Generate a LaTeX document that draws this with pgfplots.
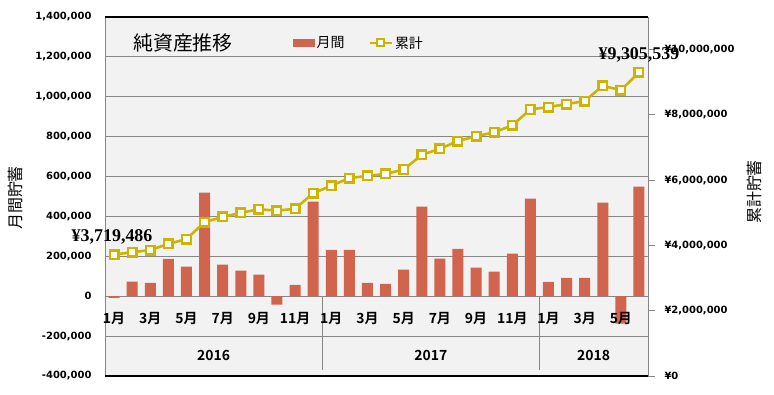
\documentclass[border=0pt]{standalone}
\usepackage{fontspec}
\usepackage{pgfplots}
\usepackage{pgfplotstable}
\pgfplotsset{compat=1.18}
\setmainfont{DejaVu Sans}
\newfontfamily\cjk{Noto Sans CJK JP}
\newfontfamily\cjkb{Noto Sans CJK JP Bold}
\newfontfamily\lserif{Liberation Serif}
\definecolor{barcol}{RGB}{208,100,76}
\definecolor{linecol}{RGB}{204,180,0}
\definecolor{bgcol}{RGB}{242,242,242}
\definecolor{gridcol}{RGB}{134,134,134}

\pgfplotstableread{
x monthly cum
0 -8000 3719486
1 73000 3792486
2 67000 3859486
3 187000 4046486
4 148000 4194486
5 520000 4714486
6 158000 4872486
7 128000 5000486
8 108000 5108486
9 -42000 5066486
10 57000 5123486
11 474000 5597486
12 233000 5830486
13 233000 6063486
14 67000 6130486
15 62000 6192486
16 133000 6325486
17 449000 6774486
18 188000 6962486
19 238000 7200486
20 143000 7343486
21 123000 7466486
22 213000 7679486
23 489000 8168486
24 72000 8240486
25 92000 8332486
26 92000 8424486
27 469000 8893486
28 -137000 8756486
29 549053 9305539
}\datatable

\begin{document}
\begin{tikzpicture}
\path[use as bounding box] (0,0) rectangle (774bp,395bp);
\begin{axis}[
  at={(105bp,19bp)}, anchor=south west, scale only axis,
  width=543bp, height=359bp,
  xmin=-0.5, xmax=29.5, ymin=-400000, ymax=1400000,
  xtick=\empty,
  ytick={-400000,-200000,0,200000,400000,600000,800000,1000000,1200000,1400000},
  yticklabels={{-400,000},{-200,000},{0},{200,000},{400,000},{600,000},{800,000},{1,000,000},{1,200,000},{1,400,000}},
  scaled y ticks=false,
  yticklabel style={font=\bfseries\fontsize{10}{12}\selectfont, xshift=-10bp},
  major tick length=0pt,
  ymajorgrids, grid style={gridcol, line width=0.9bp},
  axis line style={draw=none},
  axis background/.style={fill=bgcol},
  clip=false,
]
\addplot[ybar, bar width=11bp, fill=barcol, draw=none] table[x=x,y=monthly]{\datatable};
\draw[gridcol, line width=0.9bp] (rel axis cs:0,0) -- (rel axis cs:0,1);
\draw[black, line width=1.2bp] (rel axis cs:0,1) -- (rel axis cs:1,1);
\draw[black, line width=1.2bp] (rel axis cs:0,0) -- (rel axis cs:1,0);
\draw[gridcol, line width=0.9bp] (axis cs:11.5,0) -- (axis cs:11.5,-370000);
\draw[gridcol, line width=0.9bp] (axis cs:23.5,0) -- (axis cs:23.5,-370000);
\begin{scope}[every node/.style={font=\cjkb\fontsize{14}{16}\selectfont}]
\node at (axis cs:0,-113800) {1月};
\node at (axis cs:2,-113800) {3月};
\node at (axis cs:4,-113800) {5月};
\node at (axis cs:6,-113800) {7月};
\node at (axis cs:8,-113800) {9月};
\node at (axis cs:10,-113800) {11月};
\node at (axis cs:12,-113800) {1月};
\node at (axis cs:14,-113800) {3月};
\node at (axis cs:16,-113800) {5月};
\node at (axis cs:18,-113800) {7月};
\node at (axis cs:20,-113800) {9月};
\node at (axis cs:22,-113800) {11月};
\node at (axis cs:24,-113800) {1月};
\node at (axis cs:26,-113800) {3月};
\node at (axis cs:28,-113800) {5月};
\node at (axis cs:5.5,-299000) {2016};
\node at (axis cs:17.5,-299000) {2017};
\node at (axis cs:26.5,-299000) {2018};
\end{scope}
\node[font=\cjk\fontsize{20}{22}\selectfont] at (rel axis cs:0.1436,0.9276) {純資産推移};
\end{axis}
\begin{axis}[
  at={(105bp,19bp)}, anchor=south west, scale only axis,
  width=543bp, height=359bp,
  xmin=-0.5, xmax=29.5, ymin=0, ymax=11000000,
  axis y line*=right, axis x line=none,
  ytick={0,2000000,4000000,6000000,8000000,10000000},
  yticklabels={{¥0},{¥2,000,000},{¥4,000,000},{¥6,000,000},{¥8,000,000},{¥10,000,000}},
  scaled y ticks=false,
  yticklabel style={font=\bfseries\fontsize{10}{12}\selectfont, anchor=west, xshift=6bp},
  tick align=outside, major tick length=7bp,
  tick style={gridcol, line width=0.9bp},
  axis line style={gridcol, line width=0.9bp},
  clip=false,
  legend style={at={(rel axis cs:0.468,0.9276)}, anchor=center, draw=none, fill=none,
    font=\cjk\fontsize{14}{16}\selectfont, legend columns=2,
    /tikz/every even column/.append style={column sep=22bp}},
  legend cell align=left,
]
\addlegendimage{legend image code/.code={\fill[barcol] (0bp,-3.7bp) rectangle (21bp,3.7bp);}}
\addlegendentry{月間}
\addplot[linecol, line width=2.6bp, mark=square*, mark size=4.3bp,
  mark options={fill=white, draw=linecol, line width=2.4bp, solid},
  legend image code/.code={\draw[linecol, line width=2.4bp] (0bp,0bp) -- (22bp,0bp);
    \draw[linecol, line width=2bp, fill=white] (7.5bp,-3.5bp) rectangle (14.5bp,3.5bp);}]
  table[x=x,y=cum]{\datatable};
\addlegendentry{累計}
\node[font=\lserif\bfseries\fontsize{18}{20}\selectfont, xshift=-2bp, yshift=18bp] at (axis cs:0,3719486) {¥3,719,486};
\node[font=\lserif\bfseries\fontsize{18}{20}\selectfont, yshift=17bp] at (axis cs:29,9305539) {¥9,305,539};
\end{axis}
\node[font=\cjk\fontsize{16}{18}\selectfont, rotate=90] at (15bp,197bp) {月間貯蓄};
\node[font=\cjk\fontsize{16}{18}\selectfont, rotate=90] at (754bp,203bp) {累計貯蓄};
\end{tikzpicture}
\end{document}
